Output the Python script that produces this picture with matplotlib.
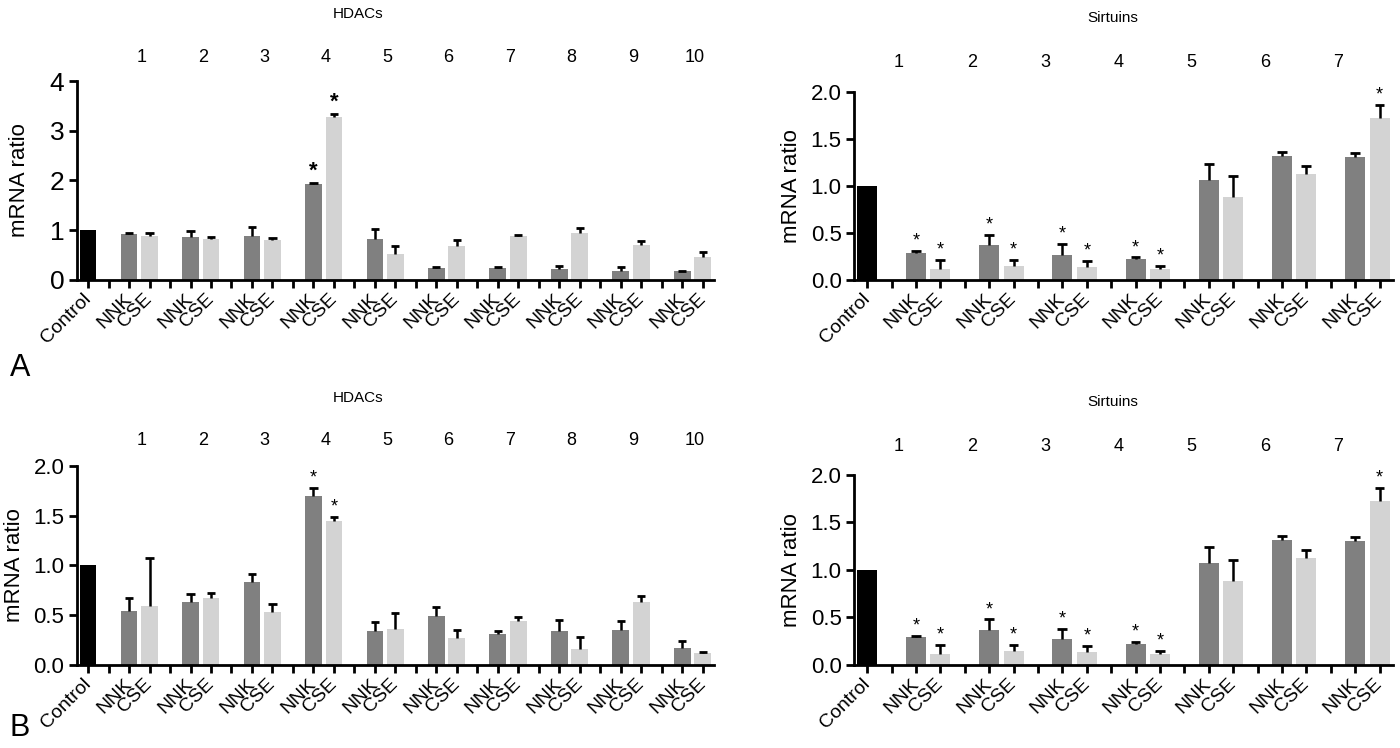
import matplotlib.pyplot as plt
import matplotlib.transforms as mtransforms
import numpy as np

plt.rcParams['font.family'] = ['Liberation Sans', 'DejaVu Sans']

# HDACs, panel A
hdac_a_nnk = [0.93, 0.86, 0.89, 1.93, 0.82, 0.24, 0.24, 0.22, 0.18, 0.18]
hdac_a_nnk_err = [0.01, 0.12, 0.17, 0.02, 0.20, 0.02, 0.03, 0.07, 0.09, 0.01]
hdac_a_cse = [0.89, 0.82, 0.80, 3.28, 0.52, 0.68, 0.89, 0.95, 0.70, 0.46]
hdac_a_cse_err = [0.06, 0.05, 0.05, 0.05, 0.16, 0.12, 0.01, 0.09, 0.08, 0.10]
hdac_a_nnk_sig = [4]
hdac_a_cse_sig = [4]

# HDACs, panel B
hdac_b_nnk = [0.54, 0.63, 0.83, 1.70, 0.34, 0.49, 0.31, 0.34, 0.35, 0.17]
hdac_b_nnk_err = [0.13, 0.08, 0.08, 0.08, 0.09, 0.09, 0.03, 0.11, 0.09, 0.07]
hdac_b_cse = [0.59, 0.67, 0.53, 1.45, 0.36, 0.27, 0.44, 0.16, 0.63, 0.12]
hdac_b_cse_err = [0.49, 0.05, 0.08, 0.04, 0.16, 0.08, 0.04, 0.12, 0.06, 0.01]
hdac_b_nnk_sig = [4]
hdac_b_cse_sig = [4]

# Sirtuins (same in A and B)
sirt_nnk = [0.29, 0.37, 0.27, 0.22, 1.07, 1.32, 1.31]
sirt_nnk_err = [0.015, 0.11, 0.11, 0.02, 0.17, 0.04, 0.04]
sirt_cse = [0.12, 0.15, 0.14, 0.12, 0.88, 1.13, 1.73]
sirt_cse_err = [0.09, 0.06, 0.06, 0.03, 0.23, 0.085, 0.13]
sirt_nnk_sig = [1, 2, 3, 4]
sirt_cse_sig = [1, 2, 3, 4, 7]

control_value = 1.0

fig = plt.figure(figsize=(14, 7.48), dpi=100)


def upper_err(ax, x, y, err):
    # only the upper half of the error bar, GraphPad style
    x = np.asarray(x, dtype=float)
    top = np.asarray(y) + np.asarray(err)
    ax.vlines(x, np.asarray(y), top, color='black', linewidth=1.8, zorder=3)
    ax.hlines(top, x - 0.2, x + 0.2, color='black', linewidth=2, zorder=3)


def draw_panel(ax, nnk, nnk_err, cse, cse_err, nnk_sig, cse_sig, ymax, yticks,
               ytick_fs, num_dx, num_y, star_fs, star_weight='normal', ylabelpad=6):
    n = len(nnk)
    groups = np.arange(n)
    x_nnk = 2 + 3 * groups
    x_cse = 3 + 3 * groups
    x_sep = 1 + 3 * groups
    w = 0.82
    ax.bar(0, control_value, width=w, color='black', zorder=2)
    ax.bar(x_nnk, nnk, width=w, color='#808080', zorder=2)
    ax.bar(x_cse, cse, width=w, color='#d3d3d3', zorder=2)
    upper_err(ax, x_nnk, nnk, nnk_err)
    upper_err(ax, x_cse, cse, cse_err)
    for g in nnk_sig:
        ax.annotate('*', (x_nnk[g - 1], nnk[g - 1] + nnk_err[g - 1]), xytext=(0, 1),
                    textcoords='offset points', ha='center', va='bottom',
                    fontsize=star_fs, fontweight=star_weight)
    for g in cse_sig:
        ax.annotate('*', (x_cse[g - 1], cse[g - 1] + cse_err[g - 1]), xytext=(0, 1),
                    textcoords='offset points', ha='center', va='bottom',
                    fontsize=star_fs, fontweight=star_weight)

    ticks = np.sort(np.concatenate([[0], x_sep, x_nnk, x_cse]))
    labels = []
    for t in ticks:
        if t == 0:
            labels.append('Control')
        elif t % 3 == 1:
            labels.append('')
        elif t % 3 == 2:
            labels.append('NNK')
        else:
            labels.append('CSE')
    ax.set_xticks(ticks)
    ax.set_xticklabels(labels, rotation=45, ha='right', va='center',
                       rotation_mode='anchor', fontsize=14)
    for lab in ax.get_xticklabels():
        lab.set_transform(lab.get_transform() + mtransforms.ScaledTranslation(
            6 / 72, 0, fig.dpi_scale_trans))
    ax.set_xlim(-0.54, x_cse[-1] + 0.55)
    ax.set_ylim(0, ymax)
    ax.set_yticks(yticks)
    ax.set_yticklabels([('%g' % v) if ymax > 2 else ('%.1f' % v) for v in yticks],
                       fontsize=ytick_fs)
    ax.set_ylabel('mRNA ratio', fontsize=16, labelpad=ylabelpad)
    for s in ['top', 'right']:
        ax.spines[s].set_visible(False)
    for s in ['left', 'bottom']:
        ax.spines[s].set_linewidth(2)
    ax.tick_params(axis='both', width=2, length=6, direction='out', pad=3)
    ax.tick_params(axis='x', pad=6)

    trans = mtransforms.blended_transform_factory(ax.transData, ax.transAxes)
    for g in groups:
        ax.text((x_nnk[g] + x_cse[g]) / 2 + num_dx, num_y, str(g + 1), transform=trans,
                ha='center', va='center', fontsize=13)


ax1 = fig.add_axes([0.055, 0.6257, 0.455, 0.266])
draw_panel(ax1, hdac_a_nnk, hdac_a_nnk_err, hdac_a_cse, hdac_a_cse_err,
           hdac_a_nnk_sig, hdac_a_cse_sig, 4, [0, 1, 2, 3, 4], 19, 0.1, 1.12,
           16, 'bold', ylabelpad=14)

ax2 = fig.add_axes([0.61, 0.6257, 0.385, 0.251])
draw_panel(ax2, sirt_nnk, sirt_nnk_err, sirt_cse, sirt_cse_err,
           sirt_nnk_sig, sirt_cse_sig, 2.0, [0, 0.5, 1.0, 1.5, 2.0], 16, -1.2, 1.16, 13)

ax3 = fig.add_axes([0.055, 0.111, 0.455, 0.266])
draw_panel(ax3, hdac_b_nnk, hdac_b_nnk_err, hdac_b_cse, hdac_b_cse_err,
           hdac_b_nnk_sig, hdac_b_cse_sig, 2.0, [0, 0.5, 1.0, 1.5, 2.0], 16, 0.1, 1.13, 13)

ax4 = fig.add_axes([0.61, 0.111, 0.385, 0.254])
draw_panel(ax4, sirt_nnk, sirt_nnk_err, sirt_cse, sirt_cse_err,
           sirt_nnk_sig, sirt_cse_sig, 2.0, [0, 0.5, 1.0, 1.5, 2.0], 16, -1.2, 1.15, 13)

fig.text(358 / 1400, 1 - 14 / 748, 'HDACs', ha='center', va='center', fontsize=11)
fig.text(1113 / 1400, 1 - 18 / 748, 'Sirtuins', ha='center', va='center', fontsize=11)
fig.text(358 / 1400, 1 - 398 / 748, 'HDACs', ha='center', va='center', fontsize=11)
fig.text(1113 / 1400, 1 - 402 / 748, 'Sirtuins', ha='center', va='center', fontsize=11)
fig.text(20 / 1400, 1 - 368 / 748, 'A', ha='center', va='center', fontsize=22)
fig.text(20 / 1400, 1 - 728 / 748, 'B', ha='center', va='center', fontsize=22)

fig.savefig('out.png', dpi=100)
